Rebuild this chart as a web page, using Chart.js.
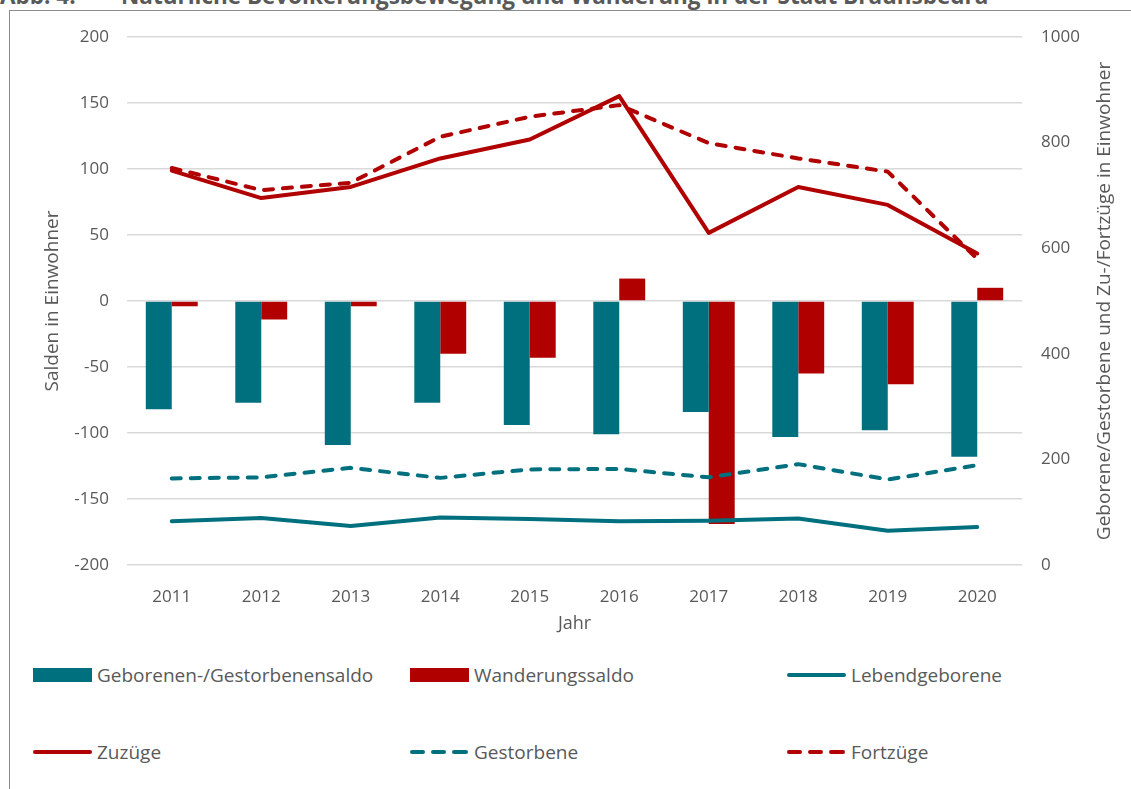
<!DOCTYPE html>
<html>
<head>
<meta charset="utf-8">
<script src="https://cdn.jsdelivr.net/npm/chart.js@4/dist/chart.umd.min.js"></script>
<style>
  html, body { margin: 0; padding: 0; background: #fff; }
  body { width: 1131px; height: 789px; position: relative; overflow: hidden; font-family: "Open Sans", sans-serif; color: #595959; }
  #frame { position: absolute; left: 9px; top: 10px; width: 1140px; height: 800px; border-left: 1px solid #8c8c8c; border-top: 1px solid #8c8c8c; }
  #title { position: absolute; top: -15px; left: 0; font-weight: bold; font-size: 22.5px; line-height: 1; white-space: nowrap; color: #595959; }
  #title span.main { position: absolute; left: 121px; }
  #chart { position: absolute; left: 0; top: 0; }
  .lg { position: absolute; height: 20px; display: flex; align-items: center; font-size: 19px; white-space: nowrap; }
  .lg .sw { width: 59px; height: 14px; margin-right: 5px; position: relative; }
</style>
</head>
<body>
<div id="title">Abb. 4:<span class="main">Natürliche Bevölkerungsbewegung und Wanderung in der Stadt Braunsbedra</span></div>
<div id="frame"></div>
<canvas id="chart" width="1131" height="645"></canvas>
<div id="legend"></div>
<script>
// Daten
const jahre = ['2011', '2012', '2013', '2014', '2015', '2016', '2017', '2018', '2019', '2020'];
const geborenenSaldo = [-82, -77, -109, -77, -94, -101, -84, -103, -98, -118];
const wanderungsSaldo = [-4, -14, -4, -40, -43, 17, -169, -55, -63, 10];
const lebendgeborene = [83, 89, 74, 90, 87, 83, 84, 88, 65, 72];
const gestorbene = [164, 166, 184, 165, 181, 182, 166, 191, 162, 189];
const zuzuege = [747, 695, 716, 770, 806, 888, 629, 716, 682, 590];
const fortzuege = [752, 710, 724, 811, 849, 871, 799, 770, 745, 580];

const TEAL = '#00707f';
const RED = '#b00000';
const GREY = '#595959';
const FONT = '"Open Sans", sans-serif';
const rechtsTitel = 'Geborene/Gestorbene und Zu-/Fortzüge in Einwohner';

const ctx = document.getElementById('chart').getContext('2d');

const lineStyle = (color, dashed) => ({
    type: 'line',
    borderColor: color,
    backgroundColor: color,
    borderWidth: 4,
    borderDash: dashed ? [9, 10] : [],
    borderCapStyle: 'round',
    borderJoinStyle: 'round',
    pointRadius: 0,
    tension: 0,
    yAxisID: 'y1',
    order: 1,
});

// Titel der rechten Achse von unten nach oben lesbar (wie links)
const rightTitlePlugin = {
    id: 'rightTitle',
    afterDraw(chart) {
        const c = chart.ctx;
        const area = chart.chartArea;
        c.save();
        c.translate(1105, (area.top + area.bottom) / 2);
        c.rotate(-Math.PI / 2);
        c.fillStyle = GREY;
        c.font = '19px ' + FONT;
        c.textAlign = 'center';
        c.textBaseline = 'middle';
        c.fillText(rechtsTitel, 0, 0);
        c.restore();
    },
};

const chart = new Chart(ctx, {
    type: 'bar',
    data: {
        labels: jahre,
        datasets: [
            { label: 'Geborenen-/Gestorbenensaldo', data: geborenenSaldo, backgroundColor: TEAL, yAxisID: 'y', order: 2 },
            { label: 'Wanderungssaldo', data: wanderungsSaldo, backgroundColor: RED, yAxisID: 'y', order: 2 },
            Object.assign({ label: 'Lebendgeborene', data: lebendgeborene }, lineStyle(TEAL, false)),
            Object.assign({ label: 'Zuzüge', data: zuzuege }, lineStyle(RED, false)),
            Object.assign({ label: 'Gestorbene', data: gestorbene }, lineStyle(TEAL, true)),
            Object.assign({ label: 'Fortzüge', data: fortzuege }, lineStyle(RED, true)),
        ],
    },
    options: {
        responsive: false,
        animation: false,
        devicePixelRatio: 1,
        layout: { padding: { top: 37, left: 0, right: 0, bottom: 0 } },
        datasets: {
            bar: { categoryPercentage: 0.58, barPercentage: 1 },
        },
        plugins: {
            legend: { display: false },
            tooltip: { enabled: false },
        },
        scales: {
            x: {
                grid: { display: false },
                border: { display: false },
                ticks: { color: GREY, font: { family: FONT, size: 17 }, padding: 14 },
                title: { display: true, text: 'Jahr', color: GREY, font: { family: FONT, size: 18 }, padding: { top: 0, bottom: 10 } },
                afterFit: (s) => { s.height = 80; },
            },
            y: {
                position: 'left',
                min: -200,
                max: 200,
                ticks: { stepSize: 50, color: GREY, font: { family: FONT, size: 17 }, padding: 18 },
                grid: { color: '#d9d9d9', lineWidth: 1.5, drawTicks: false },
                border: { display: false },
                title: { display: true, text: 'Salden in Einwohner', color: GREY, font: { family: FONT, size: 19 }, padding: { top: 41, bottom: 0 } },
                afterFit: (s) => { s.width = 127; },
            },
            y1: {
                position: 'right',
                min: 0,
                max: 1000,
                ticks: { stepSize: 200, color: GREY, font: { family: FONT, size: 17 }, padding: 19, callback: (v) => String(v) },
                grid: { drawOnChartArea: false, drawTicks: false },
                border: { display: false },
                afterFit: (s) => { s.width = 109; },
            },
        },
    },
    plugins: [rightTitlePlugin],
});

// Legende als HTML, drei Spalten
const legendPos = [
    [33, 675], [410, 675], [787, 675],
    [33, 752], [410, 752], [787, 752],
];
const legendEl = document.getElementById('legend');
chart.data.datasets.forEach((ds, i) => {
    const item = document.createElement('div');
    item.className = 'lg';
    item.style.left = legendPos[i][0] + 'px';
    item.style.top = (legendPos[i][1] - 10) + 'px';
    const sw = document.createElement('canvas');
    sw.className = 'sw';
    sw.width = 59; sw.height = 14;
    const c = sw.getContext('2d');
    const col = ds.backgroundColor;
    if (ds.type !== 'line') {
        c.fillStyle = col;
        c.fillRect(0, 0, 59, 14);
    } else {
        c.strokeStyle = col;
        c.lineWidth = 4;
        c.lineCap = 'round';
        c.beginPath();
        if (ds.borderDash.length) {
            [[2, 13], [23, 34], [44, 56]].forEach(([a, b]) => { c.moveTo(a, 7); c.lineTo(b, 7); });
        } else {
            c.moveTo(2, 7); c.lineTo(57, 7);
        }
        c.stroke();
    }
    item.appendChild(sw);
    const t = document.createElement('span');
    t.textContent = ds.label;
    item.appendChild(t);
    legendEl.appendChild(item);
});
</script>
</body>
</html>
